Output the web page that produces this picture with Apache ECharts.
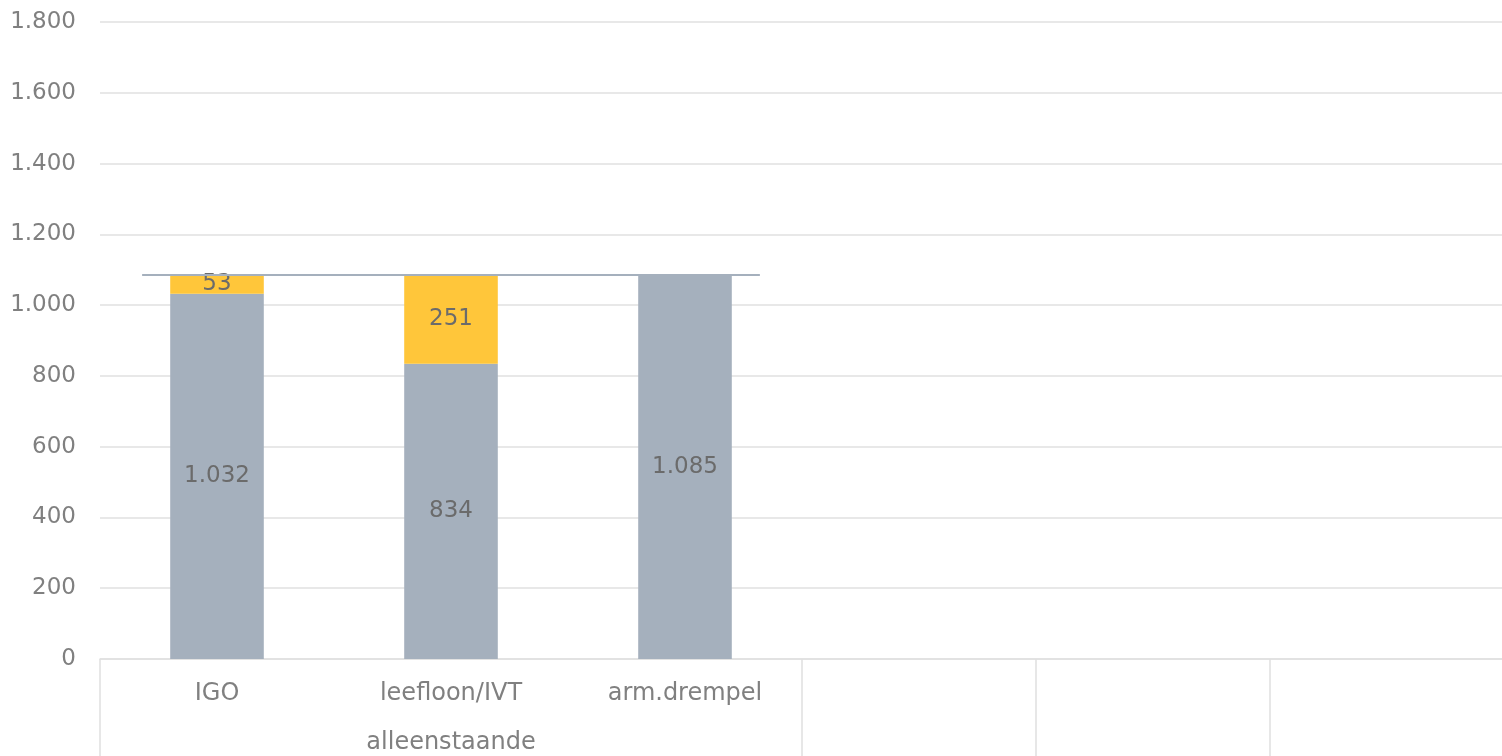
<!DOCTYPE html>
<html>
<head>
<meta charset="utf-8">
<script src="https://cdn.jsdelivr.net/npm/echarts@6/dist/echarts.min.js"></script>
<style>
  html, body { margin: 0; padding: 0; background: #fff; }
  #chart { width: 1502px; height: 756px; }
</style>
</head>
<body>
<div id="chart"></div>
<script>
// categorieen (laatste drie zijn leeg in het origineel)
var categories = ['IGO', 'leefloon/IVT\nalleenstaande', 'arm.drempel', '', '', ''];
var basisBedrag = [1032, 834, 1085, '-', '-', '-'];
var tekort = [53, 251, '-', '-', '-', '-'];
// armoedegrens als horizontale lijn (x in categorie-eenheden)
var drempelLijn = [[-0.32, 1085], [2.32, 1085]];
var yTicks = [0, 200, 400, 600, 800, 1000, 1200, 1400, 1600, 1800];

// 1032 -> 1.032
var fmt = function (v) {
    return String(v).replace(/\B(?=(\d{3})+(?!\d))/g, '.');
};

var chart = echarts.init(document.getElementById('chart'));
var gridBox = { left: 100, right: -2, top: 22, bottom: 97, outerBoundsMode: 'none' };
var labelStyle = {
    show: true,
    position: 'inside',
    color: '#6b6b6b',
    fontSize: 23,
    fontFamily: 'DejaVu Sans',
    formatter: function (p) { return fmt(p.value); }
};
var option = {
    animation: false,
    grid: [gridBox, gridBox],
    xAxis: [{
        type: 'category',
        gridIndex: 0,
        data: categories,
        axisLine: { show: true, lineStyle: { color: '#e0e0e0', width: 1.5 } },
        axisTick: {
            show: true,
            length: 97,
            lineStyle: { color: '#e0e0e0', width: 1.5 },
            interval: function (i) { return i === 0 || i >= 3; }
        },
        axisLabel: {
            color: '#808080',
            fontSize: 24,
            fontFamily: 'DejaVu Sans',
            lineHeight: 49,
            margin: 10,
            interval: 0
        }
    }, {
        type: 'value',
        gridIndex: 1,
        min: -0.5,
        max: 5.5,
        show: false
    }],
    yAxis: [{
        type: 'value',
        gridIndex: 0,
        min: yTicks[0],
        max: yTicks[yTicks.length - 1],
        interval: 200,
        axisLine: { show: false },
        axisTick: { show: false },
        splitLine: { lineStyle: { color: '#e0e0e0', width: 1.5 } },
        axisLabel: {
            color: '#808080',
            fontSize: 23,
            fontFamily: 'DejaVu Sans',
            margin: 24,
            formatter: function (v) { return fmt(v); }
        }
    }, {
        type: 'value',
        gridIndex: 1,
        min: yTicks[0],
        max: yTicks[yTicks.length - 1],
        show: false
    }],
    series: [{
        name: 'basis',
        type: 'bar',
        stack: 'totaal',
        barWidth: '40%',
        data: basisBedrag,
        itemStyle: { color: '#a5b0bd' },
        label: labelStyle
    }, {
        name: 'tekort',
        type: 'bar',
        stack: 'totaal',
        data: tekort,
        itemStyle: { color: '#ffc63a' },
        label: labelStyle
    }, {
        name: 'drempel',
        type: 'line',
        xAxisIndex: 1,
        yAxisIndex: 1,
        data: drempelLijn,
        symbol: 'none',
        lineStyle: { color: '#a5b0bd', width: 2 },
        z: 5
    }]
};
chart.setOption(option);
</script>
</body>
</html>
